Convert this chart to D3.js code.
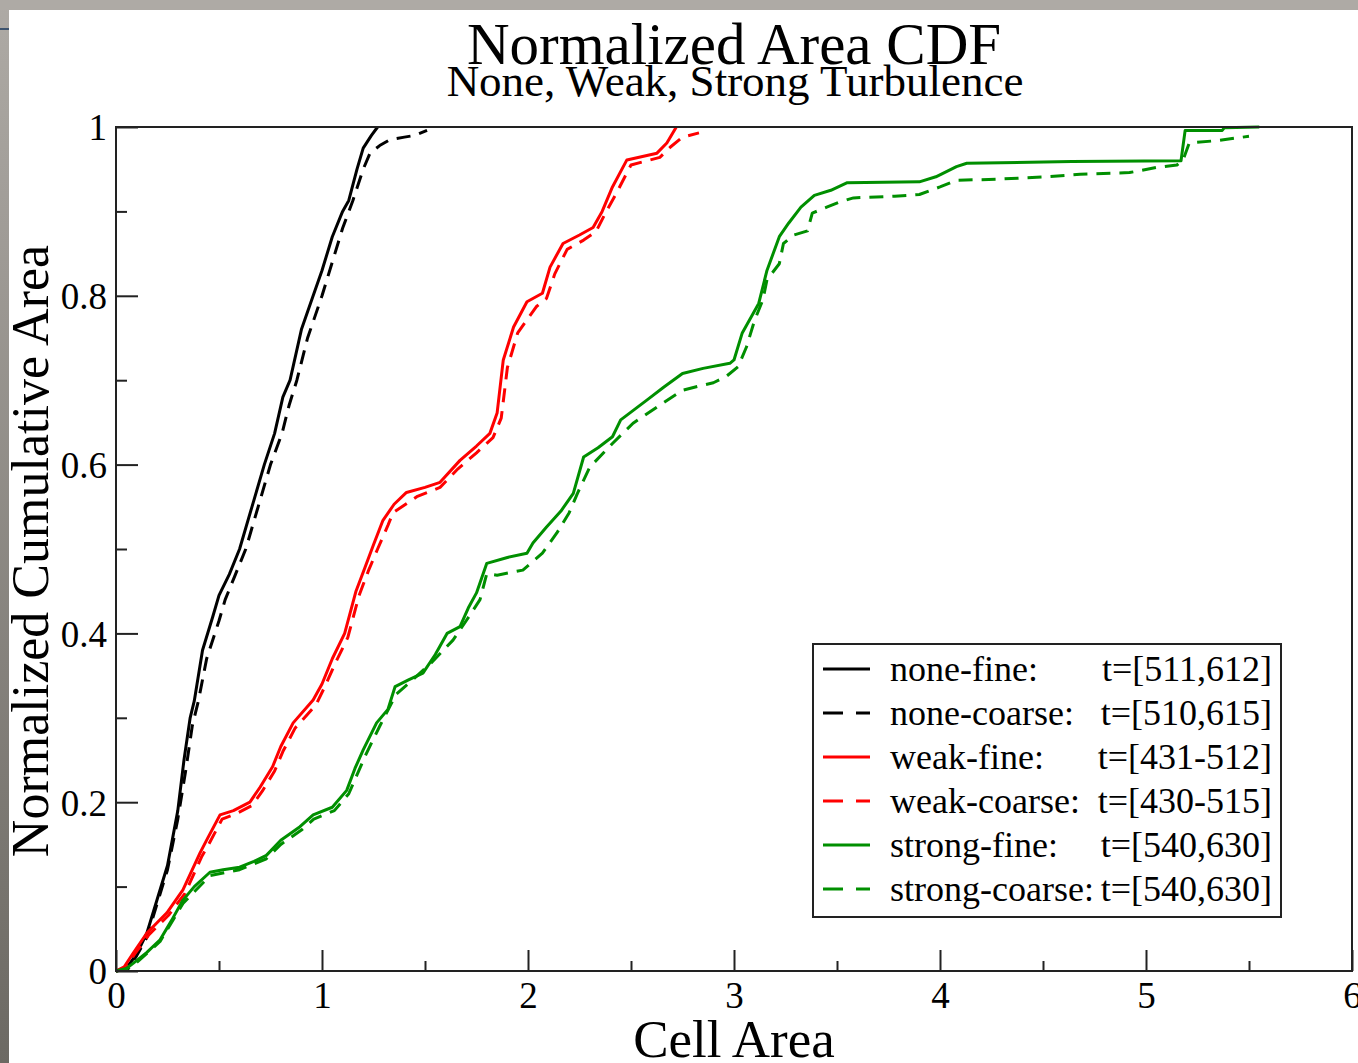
<!DOCTYPE html>
<html>
<head>
<meta charset="utf-8">
<script src="https://cdn.jsdelivr.net/npm/d3@7"></script>
<style>
  html, body { margin: 0; padding: 0; background: #fff; }
  svg { display: block; }
  text { font-family: "Liberation Serif", "DejaVu Serif", serif; fill: #000; }
</style>
</head>
<body>
<svg id="chart" width="1358" height="1063"></svg>
<script>
// ---- data ----
const titleText = "Normalized Area CDF";
const subtitleText = "None, Weak, Strong Turbulence";
const xLabel = "Cell Area";
const yLabel = "Normalized Cumulative Area";
const xTicks = [0, 1, 2, 3, 4, 5, 6];
const yTicks = [0, 0.2, 0.4, 0.6, 0.8, 1];
const yTickLabels = ["0", "0.2", "0.4", "0.6", "0.8", "1"];

const seriesNames = ["none-fine:", "none-coarse:", "weak-fine:", "weak-coarse:", "strong-fine:", "strong-coarse:"];
const seriesTimes = ["t=[511,612]", "t=[510,615]", "t=[431-512]", "t=[430-515]", "t=[540,630]", "t=[540,630]"];
const seriesColors = ["#000000", "#000000", "#ff0000", "#ff0000", "#008f00", "#008f00"];
const seriesDashed = [false, true, false, true, false, true];

const noneFine = [[0,0],[0.05,0.003],[0.1,0.02],[0.15,0.045],[0.2,0.085],[0.25,0.125],[0.3,0.19],[0.33,0.25],[0.36,0.3],[0.38,0.32],[0.42,0.38],[0.47,0.42],[0.5,0.445],[0.55,0.47],[0.6,0.5],[0.66,0.55],[0.72,0.6],[0.77,0.637],[0.81,0.68],[0.845,0.70],[0.9,0.76],[0.957,0.8],[1.0,0.83],[1.05,0.87],[1.1,0.9],[1.13,0.913],[1.17,0.95],[1.2,0.975],[1.24,0.99],[1.27,1.0]];
const noneCoarse = [[0,0],[0.06,0.003],[0.1,0.018],[0.15,0.04],[0.2,0.08],[0.25,0.12],[0.3,0.18],[0.34,0.24],[0.37,0.29],[0.4,0.32],[0.44,0.37],[0.5,0.415],[0.53,0.44],[0.58,0.47],[0.63,0.5],[0.69,0.55],[0.75,0.6],[0.806,0.637],[0.84,0.67],[0.878,0.70],[0.93,0.75],[1.0,0.8],[1.05,0.84],[1.1,0.88],[1.15,0.913],[1.2,0.95],[1.233,0.969],[1.28,0.978],[1.33,0.985],[1.4,0.988],[1.45,0.99],[1.51,0.996]];
const weakFine = [[0,0],[0.04,0.005],[0.083,0.021],[0.15,0.045],[0.247,0.069],[0.325,0.096],[0.408,0.14],[0.44,0.155],[0.505,0.185],[0.57,0.19],[0.65,0.2],[0.7,0.218],[0.76,0.242],[0.8,0.266],[0.86,0.294],[0.957,0.321],[1.0,0.34],[1.05,0.37],[1.11,0.40],[1.165,0.45],[1.21,0.479],[1.25,0.505],[1.296,0.534],[1.35,0.553],[1.41,0.567],[1.5,0.573],[1.573,0.579],[1.67,0.605],[1.75,0.622],[1.815,0.637],[1.85,0.661],[1.88,0.724],[1.93,0.763],[1.995,0.793],[2.07,0.803],[2.107,0.834],[2.17,0.862],[2.25,0.872],[2.316,0.881],[2.36,0.9],[2.41,0.929],[2.48,0.961],[2.626,0.969],[2.674,0.981],[2.72,1.0]];
const weakCoarse = [[0,0],[0.05,0.004],[0.09,0.02],[0.16,0.043],[0.255,0.066],[0.335,0.092],[0.415,0.135],[0.45,0.15],[0.515,0.18],[0.58,0.186],[0.66,0.196],[0.71,0.213],[0.77,0.237],[0.81,0.26],[0.87,0.288],[0.97,0.315],[1.01,0.335],[1.065,0.365],[1.125,0.395],[1.18,0.445],[1.225,0.474],[1.27,0.5],[1.32,0.528],[1.345,0.543],[1.46,0.562],[1.573,0.573],[1.66,0.595],[1.75,0.614],[1.83,0.632],[1.87,0.655],[1.9,0.715],[1.95,0.756],[2.04,0.787],[2.09,0.797],[2.13,0.826],[2.19,0.855],[2.27,0.866],[2.33,0.876],[2.38,0.9],[2.43,0.922],[2.5,0.955],[2.64,0.964],[2.69,0.976],[2.75,0.988],[2.83,0.993]];
const strongFine = [[0,0],[0.05,0.003],[0.083,0.009],[0.15,0.022],[0.214,0.037],[0.27,0.06],[0.325,0.084],[0.38,0.1],[0.456,0.117],[0.52,0.12],[0.6,0.123],[0.67,0.13],[0.73,0.137],[0.8,0.155],[0.893,0.171],[0.957,0.185],[1.05,0.194],[1.12,0.214],[1.16,0.24],[1.2,0.262],[1.265,0.294],[1.32,0.31],[1.355,0.337],[1.42,0.345],[1.49,0.353],[1.55,0.375],[1.607,0.40],[1.67,0.408],[1.71,0.43],[1.75,0.448],[1.8,0.483],[1.9,0.49],[1.995,0.495],[2.024,0.507],[2.09,0.526],[2.16,0.545],[2.22,0.566],[2.27,0.609],[2.34,0.62],[2.41,0.633],[2.45,0.653],[2.58,0.677],[2.66,0.692],[2.75,0.708],[2.85,0.714],[2.98,0.72],[3.0,0.724],[3.04,0.756],[3.12,0.791],[3.16,0.83],[3.22,0.87],[3.265,0.886],[3.325,0.905],[3.39,0.919],[3.47,0.925],[3.55,0.934],[3.9,0.935],[3.98,0.941],[4.08,0.953],[4.13,0.957],[4.64,0.959],[5.17,0.96],[5.19,0.996],[5.37,0.996],[5.38,0.999],[5.55,1.0]];
const strongCoarse = [[0,0],[0.05,0.002],[0.1,0.01],[0.214,0.035],[0.325,0.08],[0.456,0.113],[0.6,0.12],[0.73,0.133],[0.8,0.15],[0.9,0.167],[0.96,0.18],[1.06,0.19],[1.13,0.21],[1.21,0.255],[1.28,0.29],[1.36,0.328],[1.44,0.345],[1.53,0.365],[1.636,0.392],[1.7,0.415],[1.767,0.44],[1.8,0.471],[1.85,0.469],[1.975,0.475],[2.07,0.495],[2.14,0.519],[2.2,0.543],[2.24,0.566],[2.3,0.597],[2.41,0.625],[2.51,0.649],[2.655,0.673],[2.75,0.688],[2.83,0.693],[2.9,0.697],[2.96,0.704],[3.02,0.716],[3.06,0.739],[3.1,0.771],[3.14,0.795],[3.16,0.819],[3.22,0.838],[3.24,0.862],[3.29,0.872],[3.357,0.877],[3.38,0.898],[3.45,0.905],[3.51,0.911],[3.58,0.916],[3.78,0.918],[3.9,0.92],[4.0,0.929],[4.08,0.937],[4.27,0.938],[4.51,0.941],[4.68,0.944],[4.92,0.946],[5.05,0.952],[5.15,0.955],[5.18,0.961],[5.21,0.981],[5.35,0.984],[5.5,0.989]];

const seriesData = [noneFine, noneCoarse, weakFine, weakCoarse, strongFine, strongCoarse];

// ---- layout ----
const W = 1358, H = 1063;
const plot = { left: 116, right: 1352, top: 127, bottom: 971 };
const svg = d3.select("#chart");

// screenshot frame (gray strips at top and left)
const grad = svg.append("defs").append("linearGradient")
  .attr("id", "frameGrad").attr("x1", 0).attr("y1", 0).attr("x2", 0).attr("y2", 1);
grad.append("stop").attr("offset", "0%").attr("stop-color", "#aeaaa5");
grad.append("stop").attr("offset", "100%").attr("stop-color", "#6c6963");
svg.append("rect").attr("x", 0).attr("y", 0).attr("width", 9).attr("height", H).attr("fill", "url(#frameGrad)");
svg.append("rect").attr("x", 0).attr("y", 0).attr("width", W).attr("height", 10).attr("fill", "#aeaaa5");
svg.append("rect").attr("x", 0).attr("y", 28).attr("width", 9).attr("height", 2).attr("fill", "#3d536e");

const x = d3.scaleLinear().domain([0, 6]).range([plot.left, plot.right]);
const y = d3.scaleLinear().domain([0, 1]).range([plot.bottom, plot.top]);

// ---- titles ----
svg.append("text").attr("x", 734).attr("y", 64).attr("text-anchor", "middle")
  .style("font-size", "59px").text(titleText);
svg.append("text").attr("x", 735).attr("y", 96).attr("text-anchor", "middle")
  .style("font-size", "45px").text(subtitleText);

// ---- series ----
const line = d3.line().x(d => x(d[0])).y(d => y(d[1]));
const gLines = svg.append("g");
seriesData.forEach((data, i) => {
  gLines.append("path")
    .datum(data)
    .attr("d", line)
    .attr("fill", "none")
    .attr("stroke", seriesColors[i])
    .attr("stroke-width", 3)
    .attr("stroke-linejoin", "round")
    .attr("stroke-dasharray", seriesDashed[i] ? "14,9" : null);
});

// ---- frame ----
svg.append("rect")
  .attr("x", plot.left).attr("y", plot.top)
  .attr("width", plot.right - plot.left).attr("height", plot.bottom - plot.top)
  .attr("fill", "none").attr("stroke", "#222").attr("stroke-width", 2);

// ---- x axis ticks (inward) ----
const xMajor = svg.append("g").attr("transform", `translate(0,${plot.bottom})`)
  .call(d3.axisBottom(x).tickValues(xTicks).tickSize(-21).tickPadding(30).tickFormat(d3.format("d")));
const xMinor = svg.append("g").attr("transform", `translate(0,${plot.bottom})`)
  .call(d3.axisBottom(x).tickValues(d3.range(0.5, 6, 1)).tickSize(-10).tickFormat(""));
// ---- y axis ticks (inward) ----
const yMajor = svg.append("g").attr("transform", `translate(${plot.left},0)`)
  .call(d3.axisLeft(y).tickValues(yTicks).tickSize(-22).tickPadding(9)
    .tickFormat((d, i) => yTickLabels[i]));
const yMinor = svg.append("g").attr("transform", `translate(${plot.left},0)`)
  .call(d3.axisLeft(y).tickValues(d3.range(0.1, 1, 0.2)).tickSize(-11).tickFormat(""));

[xMajor, xMinor, yMajor, yMinor].forEach(g => {
  g.select(".domain").remove();
  g.selectAll(".tick line").attr("stroke", "#222").attr("stroke-width", 2);
  g.selectAll(".tick text")
    .style("font-family", "'Liberation Serif', serif")
    .style("font-size", "37px").attr("fill", "#000");
});
xMajor.selectAll(".tick text").attr("dy", "0.71em").attr("y", 11);
yMajor.selectAll(".tick text").attr("x", -9).attr("dy", "0.35em");

// ---- axis labels ----
svg.append("text").attr("x", 734).attr("y", 1057).attr("text-anchor", "middle")
  .style("font-size", "53px").text(xLabel);
svg.append("text").attr("transform", "translate(48,551) rotate(-90)")
  .attr("text-anchor", "middle").style("font-size", "52px").text(yLabel);

// ---- legend ----
const lg = svg.append("g");
lg.append("rect").attr("x", 813).attr("y", 644).attr("width", 468).attr("height", 273)
  .attr("fill", "#fff").attr("stroke", "#222").attr("stroke-width", 2);
seriesNames.forEach((name, i) => {
  const yy = 669 + i * 44;
  lg.append("line").attr("x1", 823).attr("x2", 870).attr("y1", yy).attr("y2", yy)
    .attr("stroke", seriesColors[i]).attr("stroke-width", 2.8)
    .attr("stroke-dasharray", seriesDashed[i] ? "20,13" : null);
  lg.append("text").attr("x", 890).attr("y", yy).attr("dy", "0.33em")
    .style("font-size", "36px").text(name);
  lg.append("text").attr("x", 1272).attr("y", yy).attr("dy", "0.33em")
    .attr("text-anchor", "end").style("font-size", "36px").text(seriesTimes[i]);
});
</script>
</body>
</html>
